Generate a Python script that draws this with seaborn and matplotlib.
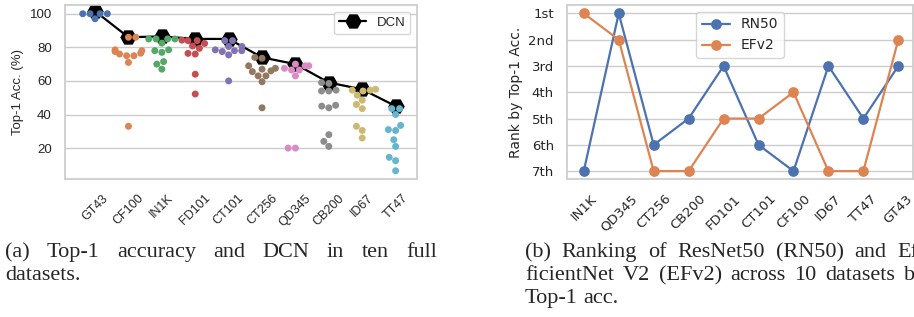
import matplotlib
matplotlib.use("Agg")
import matplotlib.pyplot as plt
import seaborn as sns
import pandas as pd

# --- (a) top-1 accuracy per dataset, one dot per model ---
datasets = ["GT43", "CF100", "IN1K", "FD101", "CT101", "CT256", "QD345", "CB200", "ID67", "TT47"]
acc_gt43 = [100, 100, 100, 100, 97]
acc_cf100 = [86, 86, 78.5, 76.5, 78, 75, 75, 77.5, 76, 71, 33]
acc_in1k = [85, 85, 85, 85, 82.5, 78, 77, 78.5, 70, 71.5, 67]
acc_fd101 = [84, 82.3, 80.8, 79.4, 76.4, 76, 84, 84.3, 64, 52.2]
acc_ct101 = [84, 84, 80.5, 78.5, 77.5, 78, 80.5, 78, 75.5, 60]
acc_ct256 = [74, 73.5, 67, 66, 67.5, 63, 63, 65.5, 69, 59.5, 44]
acc_qd345 = [69, 66.5, 66.5, 63, 69, 67.5, 70, 20, 20]
acc_cb200 = [59, 58.5, 54, 54, 54.5, 45, 44, 45.5, 24, 28, 21]
acc_id67 = [55, 51.5, 54, 54.5, 54.5, 48.5, 46, 43.5, 30.5, 33, 26]
acc_tt47 = [43.5, 43.5, 40, 31, 30.5, 33.5, 25, 21, 14.5, 12.5, 6.5]
dcn = [101.5, 86, 86.5, 85, 85, 74, 70, 59, 55, 45]

# --- (b) rank of two models per dataset ---
rank_order = ["IN1K", "QD345", "CT256", "CB200", "FD101", "CT101", "CF100", "ID67", "TT47", "GT43"]
rank_rn50 = [7, 1, 6, 5, 3, 6, 7, 3, 5, 3]
rank_efv2 = [1, 2, 7, 7, 5, 5, 4, 7, 7, 2]
rank_labels = ["1st", "2nd", "3rd", "4th", "5th", "6th", "7th"]

all_acc = [acc_gt43, acc_cf100, acc_in1k, acc_fd101, acc_ct101,
           acc_ct256, acc_qd345, acc_cb200, acc_id67, acc_tt47]
acc_df = pd.DataFrame({
    "dataset": [d for d, vals in zip(datasets, all_acc) for _ in vals],
    "acc": [v for vals in all_acc for v in vals],
})
dcn_df = pd.DataFrame({"dataset": datasets, "dcn": dcn})
rank_df = pd.DataFrame({
    "dataset": rank_order * 2,
    "rank": rank_rn50 + rank_efv2,
    "model": ["RN50"] * len(rank_order) + ["EFv2"] * len(rank_order),
})

sns.set_theme(style="whitegrid")
W, H = 914, 317
fig = plt.figure(figsize=(W / 100, H / 100), dpi=100)


def px_axes(x0, y0, x1, y1):
    return fig.add_axes([x0 / W, 1 - y1 / H, (x1 - x0) / W, (y1 - y0) / H])


# left panel
ax1 = px_axes(65, 5, 417, 179)
sns.pointplot(data=dcn_df, x="dataset", y="dcn", order=datasets, color="black",
              markers="H", markersize=10.5, linewidth=1.6, label="DCN", ax=ax1)
sns.swarmplot(data=acc_df, x="dataset", y="acc", order=datasets, hue="dataset",
              palette="deep", size=5, legend=False, zorder=3, ax=ax1)
ax1.set_xlim(-0.9, 9.64)
ax1.set_ylim(1.6, 105.2)
ax1.set_yticks([20, 40, 60, 80, 100])
ax1.set_xlabel("")
ax1.set_ylabel("Top-1 Acc. (%)", fontsize=9.5, family="Liberation Sans")
ax1.tick_params(axis="y", labelsize=9.5, labelfontfamily="Liberation Sans")
ax1.tick_params(axis="x", labelsize=9, labelfontfamily="Liberation Sans", rotation=45)
ax1.legend(loc="upper right", prop={"family": "Liberation Sans", "size": 9.5})

# right panel
ax2 = px_axes(567, 5, 913, 179)
sns.pointplot(data=rank_df, x="dataset", y="rank", hue="model", order=rank_order,
              palette="deep", markers="o", markersize=6.5, linewidth=1.6, ax=ax2)
ax2.set_xlim(-0.48, 9.42)
ax2.set_ylim(7.3, 0.68)
ax2.set_yticks(range(1, 8))
ax2.set_yticklabels(rank_labels)
ax2.set_xlabel("")
ax2.set_ylabel("Rank by Top-1 Acc.", fontsize=10)
ax2.tick_params(axis="both", labelsize=9.5)
ax2.tick_params(axis="x", rotation=45)
ax2.legend(loc="upper center", fontsize=10)

for ax in (ax1, ax2):
    for s in ax.spines.values():
        s.set_color("#cccccc")
        s.set_linewidth(1.25)

# captions, justified like the paper
renderer = fig.canvas.get_renderer()


def line(words, x0, x1, base, justify=True):
    arts = [fig.text(0, 1 - base / H, w, fontsize=16, family="Liberation Serif",
                     va="baseline", ha="left") for w in words]
    widths = [a.get_window_extent(renderer).width for a in arts]
    if justify and len(words) > 1:
        gap = (x1 - x0 - sum(widths)) / (len(words) - 1)
    else:
        gap = 5.5
    x = x0
    for a, w in zip(arts, widths):
        a.set_x(x / W)
        x += w + gap


line("(a) Top-1 accuracy and DCN in ten full".split(), 5, 437, 257)
line(["datasets."], 5, 437, 280, justify=False)
line("(b) Ranking of ResNet50 (RN50) and Ef-".split(), 525, 926, 257)
line("ficientNet V2 (EFv2) across 10 datasets by".split(), 525, 926, 280)
line("Top-1 acc.".split(), 525, 926, 303, justify=False)

fig.savefig("out.png", dpi=100)
